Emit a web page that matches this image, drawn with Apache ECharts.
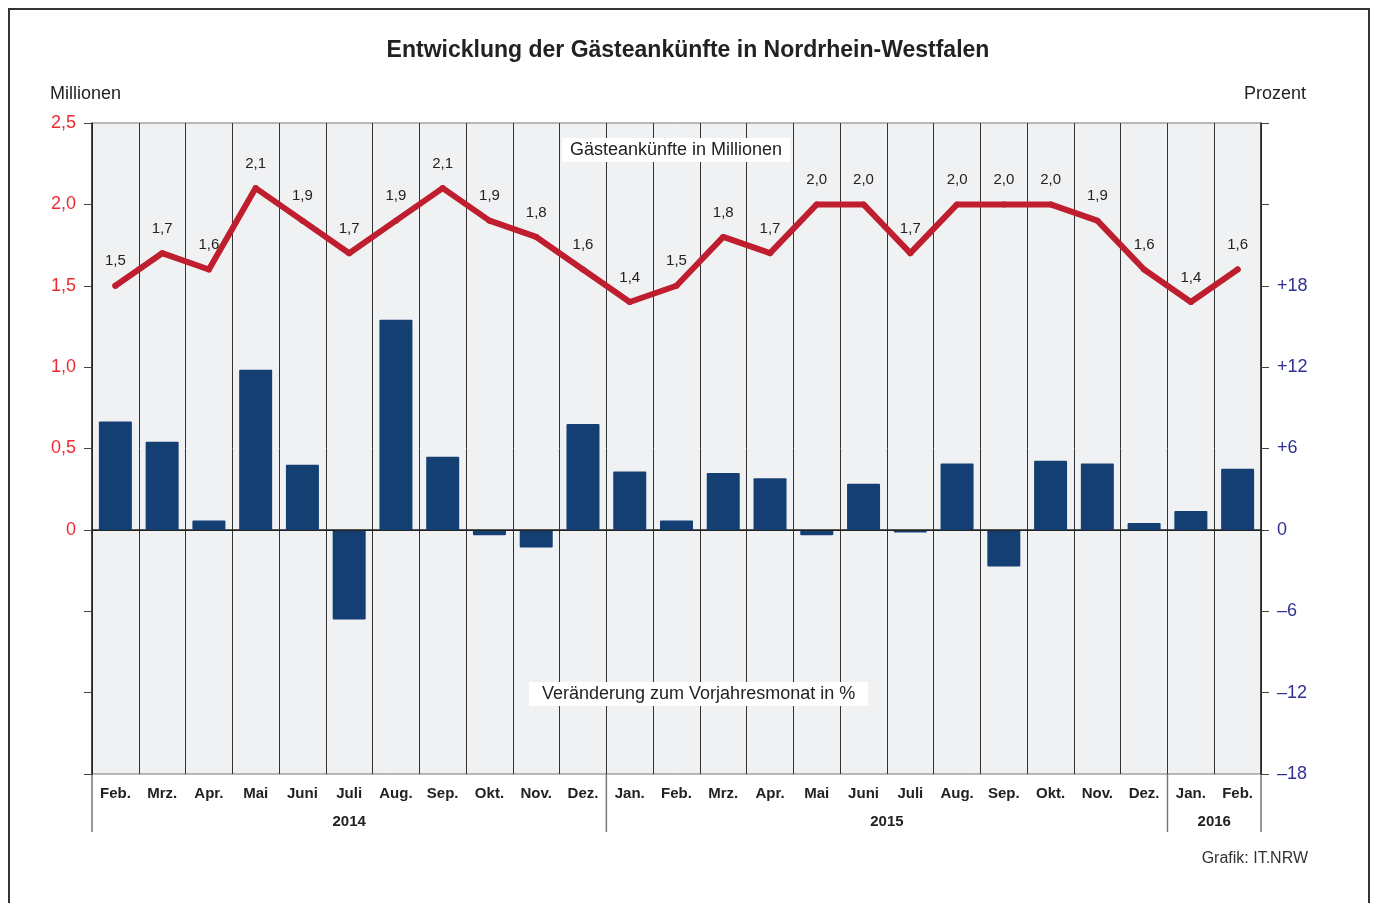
<!DOCTYPE html>
<html>
<head>
<meta charset="utf-8">
<script src="https://cdn.jsdelivr.net/npm/echarts@6/dist/echarts.min.js"></script>
<style>
  html, body { margin: 0; padding: 0; background: #fff; }
  #chart { width: 1376px; height: 903px; }
</style>
</head>
<body>
<div id="chart"></div>
<script>
// Monate Feb. 2014 bis Feb. 2016
const months = ['Feb.', 'Mrz.', 'Apr.', 'Mai', 'Juni', 'Juli', 'Aug.', 'Sep.', 'Okt.', 'Nov.', 'Dez.',
  'Jan.', 'Feb.', 'Mrz.', 'Apr.', 'Mai', 'Juni', 'Juli', 'Aug.', 'Sep.', 'Okt.', 'Nov.', 'Dez.',
  'Jan.', 'Feb.']
const yearLabels = ['2014', '2015', '2016']
const yearStart = [0, 11, 23] // erster Monat je Jahr (Index)

// Gästeankünfte in Millionen
const arrivals = [1.5, 1.7, 1.6, 2.1, 1.9, 1.7, 1.9, 2.1, 1.9, 1.8, 1.6,
  1.4, 1.5, 1.8, 1.7, 2.0, 2.0, 1.7, 2.0, 2.0, 2.0, 1.9, 1.6,
  1.4, 1.6]
// Veränderung zum Vorjahresmonat in %
const change = [8.0, 6.5, 0.7, 11.8, 4.8, -6.6, 15.5, 5.4, -0.4, -1.3, 7.8,
  4.3, 0.7, 4.2, 3.8, -0.4, 3.4, -0.2, 4.9, -2.7, 5.1, 4.9, 0.5,
  1.4, 4.5]

const font = '"Liberation Sans", Arial, sans-serif'
const fmtDe = v => v.toFixed(1).replace('.', ',')
const lineRed = '#be1e2d'

const chart = echarts.init(document.getElementById('chart'))

const option = {
  animation: false,
  textStyle: { fontFamily: font },
  title: [
    {
      text: 'Entwicklung der Gästeankünfte in Nordrhein-Westfalen',
      left: 'center',
      top: 34,
      textStyle: { fontSize: 23, fontWeight: 'bold', color: '#222', fontFamily: font }
    },
    {
      text: 'Gästeankünfte in Millionen',
      left: 562,
      top: 138,
      backgroundColor: '#fff',
      padding: [3, 8, 3, 8],
      textStyle: { fontSize: 18, fontWeight: 'normal', color: '#222', fontFamily: font }
    },
    {
      text: 'Veränderung zum Vorjahresmonat in %',
      left: 529,
      top: 682,
      backgroundColor: '#fff',
      padding: [3, 13, 3, 13],
      textStyle: { fontSize: 18, fontWeight: 'normal', color: '#222', fontFamily: font }
    }
  ],
  grid: {
    left: 92,
    right: 115,
    top: 123,
    bottom: 129,
    show: true,
    backgroundColor: '#f0f1f3',
    borderColor: '#777',
    borderWidth: 1
  },
  xAxis: {
    type: 'category',
    data: months,
    boundaryGap: true,
    axisLine: { lineStyle: { color: '#222', width: 1.5 } },
    axisTick: { show: false },
    axisLabel: { fontSize: 15, fontWeight: 'bold', color: '#222', margin: 12, interval: 0 },
    splitLine: { show: true, lineStyle: { color: '#333', width: 1 } }
  },
  yAxis: [
    {
      type: 'value',
      name: 'Millionen',
      nameLocation: 'end',
      nameGap: 20,
      nameTextStyle: { fontSize: 18, color: '#222', align: 'left', padding: [0, 0, 0, -42] },
      min: -1.5,
      max: 2.5,
      interval: 0.5,
      axisLine: { show: true, lineStyle: { color: '#222', width: 1.5 } },
      axisTick: { show: true, length: 8, lineStyle: { color: '#444' } },
      axisLabel: {
        fontSize: 18,
        color: '#ee2a2f',
        margin: 16,
        formatter: v => (v < 0 ? '' : (v === 0 ? '0' : fmtDe(v)))
      },
      splitLine: { show: false }
    },
    {
      type: 'value',
      name: 'Prozent',
      nameLocation: 'end',
      nameGap: 20,
      nameTextStyle: { fontSize: 18, color: '#222', align: 'right', padding: [0, -45, 0, 0] },
      min: -18,
      max: 30,
      interval: 6,
      position: 'right',
      axisLine: { show: true, lineStyle: { color: '#222', width: 1.5 } },
      axisTick: { show: true, length: 8, lineStyle: { color: '#444' } },
      axisLabel: {
        fontSize: 18,
        color: '#2e3192',
        margin: 16,
        formatter: v => {
          if (v > 18) return ''
          if (v > 0) return '+' + v
          if (v < 0) return '\u2013' + Math.abs(v)
          return '0'
        }
      },
      splitLine: { show: false }
    }
  ],
  series: [
    {
      name: 'Veränderung zum Vorjahresmonat in %',
      type: 'bar',
      yAxisIndex: 1,
      data: change,
      barWidth: 33,
      itemStyle: { color: '#143f73', borderRadius: 1 },
      markLine: {
        silent: true,
        symbol: 'none',
        label: { show: false },
        lineStyle: { color: '#222', width: 1, type: 'solid' },
        data: [{ yAxis: 0 }]
      },
      z: 2
    },
    {
      name: 'Gästeankünfte in Millionen',
      type: 'line',
      yAxisIndex: 0,
      data: arrivals,
      showSymbol: true,
      symbol: 'circle',
      symbolSize: 6,
      itemStyle: { color: lineRed },
      lineStyle: { color: lineRed, width: 6, cap: 'round', join: 'round' },
      label: {
        show: true,
        position: 'top',
        distance: 14,
        fontSize: 15,
        color: '#222',
        formatter: p => fmtDe(p.value)
      },
      z: 5
    }
  ]
}

chart.setOption(option)

// Jahreszeile unter den Monaten mit Trennstrichen
function drawYears() {
  const c0 = chart.convertToPixel({ xAxisIndex: 0 }, 0)
  const c1 = chart.convertToPixel({ xAxisIndex: 0 }, 1)
  const band = c1 - c0
  const edge = i => c0 - band / 2 + i * band
  const yTop = chart.convertToPixel({ yAxisIndex: 0 }, -1.5)
  const yBottom = yTop + 58
  const elements = []
  const bounds = yearStart.concat([months.length])
  bounds.forEach(i => {
    elements.push({
      type: 'line',
      shape: { x1: edge(i), y1: yTop, x2: edge(i), y2: yBottom },
      style: { stroke: '#777', lineWidth: 1.5 }
    })
  })
  yearLabels.forEach((y, k) => {
    elements.push({
      type: 'text',
      x: (edge(bounds[k]) + edge(bounds[k + 1])) / 2,
      y: yTop + 48,
      style: { text: y, font: 'bold 15px ' + font, fill: '#222', align: 'center', verticalAlign: 'middle' }
    })
  })
  elements.push({
    type: 'text',
    x: 1308,
    y: 859,
    style: { text: 'Grafik: IT.NRW', font: '16px ' + font, fill: '#333', align: 'right', verticalAlign: 'middle' }
  })
  elements.push({
    type: 'rect',
    shape: { x: 9, y: 9, width: 1360, height: 910 },
    style: { fill: 'none', stroke: '#333', lineWidth: 2 }
  })
  chart.setOption({ graphic: elements })
}
drawYears()
</script>
</body>
</html>
